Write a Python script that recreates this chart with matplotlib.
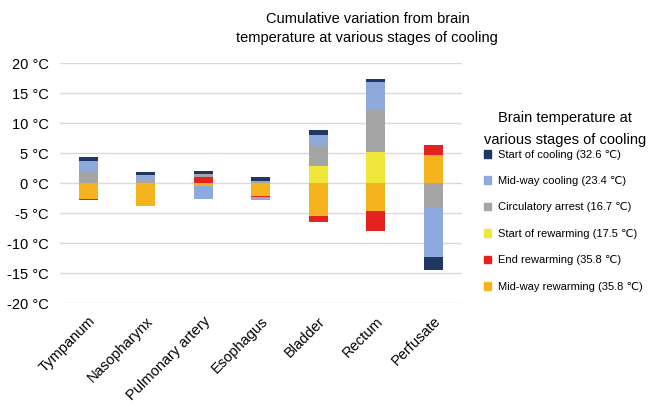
import numpy as np
import matplotlib
matplotlib.use("Agg")
import matplotlib.pyplot as plt
from matplotlib.patches import Patch

plt.rcParams['font.family'] = ['Liberation Sans', 'DejaVu Sans']

# sites along the x axis
sites = ['Tympanum', 'Nasopharynx', 'Pulmonary artery', 'Esophagus',
         'Bladder', 'Rectum', 'Perfusate']

# variation from brain temperature (°C), one list per stage
# (stacking order = order below, first series sits next to zero)
mid_rewarm = [-2.6, -3.75, -0.45, -2.1, -5.45, -4.7, 4.6]
end_rewarm = [-0.3, 0.0, 0.95, -0.25, -1.1, -3.25, 1.8]
start_rewarm = [0.0, 0.0, 0.0, 0.0, 2.9, 5.1, 0.0]
circ_arrest = [1.8, 0.5, 0.5, 0.4, 3.2, 7.2, -4.1]
mid_cooling = [1.9, 0.9, -2.2, -0.45, 1.95, 4.5, -8.3]
start_cooling = [0.6, 0.4, 0.5, 0.55, 0.75, 0.55, -2.1]

series = [mid_rewarm, end_rewarm, start_rewarm, circ_arrest, mid_cooling, start_cooling]
labels = ['Mid-way rewarming (35.8 \u2103)', 'End rewarming (35.8 \u2103)',
          'Start of rewarming (17.5 \u2103)', 'Circulatory arrest (16.7 \u2103)',
          'Mid-way cooling (23.4 \u2103)', 'Start of cooling (32.6 \u2103)']
colors = ['#F5B41D', '#E4221F', '#F0E73A', '#A5A5A5', '#8EA9DB', '#1F3763']

fig = plt.figure(figsize=(6.48, 4.07), dpi=100)
ax = fig.add_axes([0.0922, 0.2555, 0.6204, 0.5897])

x = np.arange(len(sites))
pos = np.zeros(len(sites))
neg = np.zeros(len(sites))
for vals, c in zip(series, colors):
    v = np.array(vals)
    bottom = np.where(v >= 0, pos, neg)
    ax.bar(x, v, width=0.33, bottom=bottom, color=c, zorder=3)
    pos = pos + np.clip(v, 0, None)
    neg = neg + np.clip(v, None, 0)

ax.set_xlim(-0.5, len(sites) - 0.5)
ax.set_ylim(-20, 20)
yt = np.arange(-20, 21, 5)
ax.set_yticks(yt)
ax.set_yticklabels([f'{t} \u00b0C' for t in yt], fontsize=10.5)
ax.set_xticks(x)
ax.set_xticklabels(sites, rotation=45, ha='right', rotation_mode='anchor', fontsize=10.5)
ax.tick_params(axis='y', length=0, pad=8)
ax.tick_params(axis='x', length=0, pad=8)
ax.grid(axis='y', color='#D9D9D9', linewidth=1, zorder=0)
for s in ax.spines.values():
    s.set_visible(False)

fig.text(0.567, 0.93, 'Cumulative variation from brain\ntemperature at various stages of cooling',
         ha='center', va='center', fontsize=10.5, linespacing=1.5)

# legend title drawn separately to control spacing
fig.text(0.872, 0.683, 'Brain temperature at\nvarious stages of cooling',
         ha='center', va='center', fontsize=10.5, linespacing=1.7)

handles = [Patch(color=c, label=l) for c, l in zip(colors, labels)][::-1]
leg = fig.legend(handles=handles, loc='upper left', bbox_to_anchor=(0.731, 0.657),
                 frameon=False, fontsize=8, handlelength=0.7, handleheight=0.7,
                 handletextpad=0.55, labelspacing=1.48, borderpad=0.4)

fig.savefig('out.png', dpi=100)
